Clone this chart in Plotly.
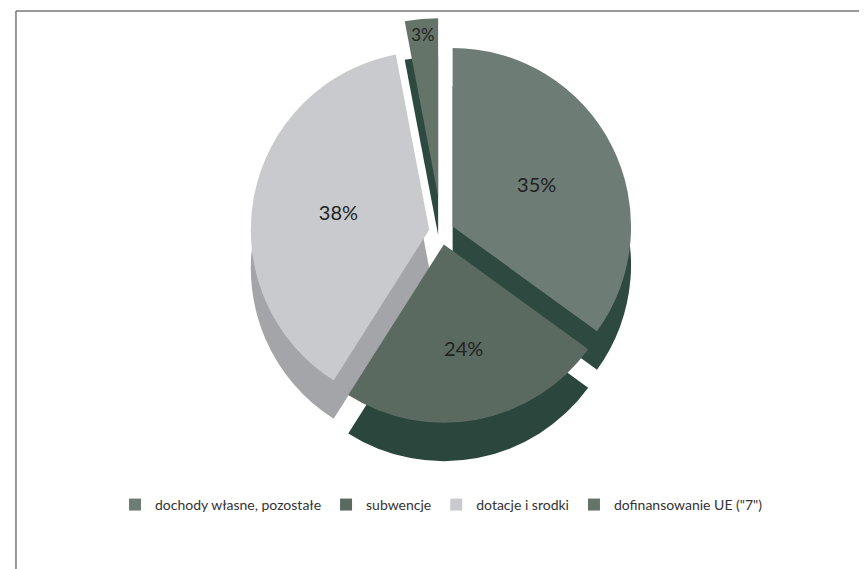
import plotly.graph_objects as go

labels = ["dochody własne, pozostałe", "subwencje", "dotacje i srodki", 'dofinansowanie UE ("7")']
values = [35, 24, 38, 3]
top_colors = ["#6d7c74", "#5a6a61", "#c8cacd", "#647469"]
side_colors = ["#2e4a40", "#2b463c", "#a3a5a8", "#2e4a40"]
pulls = [0.07, 0.07, 0.07, 0.2]

fig = go.Figure()
# depth layer (fake 3D side)
fig.add_trace(go.Pie(
    labels=[l + " " for l in labels], values=values, sort=False, direction="clockwise",
    rotation=0, pull=pulls, marker=dict(colors=side_colors, line=dict(width=0)),
    textinfo="none", hoverinfo="skip", showlegend=False,
    domain=dict(x=[0.05, 0.95], y=[0.15, 0.93])))
fig.add_trace(go.Pie(
    labels=labels, values=values, sort=False, direction="clockwise",
    rotation=0, pull=pulls, marker=dict(colors=top_colors, line=dict(width=0)),
    textinfo="percent", texttemplate="%{value}%", textposition="inside",
    insidetextorientation="horizontal",
    textfont=dict(size=20, color="#222222", family="Lato, sans-serif"),
    domain=dict(x=[0.05, 0.95], y=[0.22, 1.0])))

fig.update_layout(
    width=867, height=569,
    paper_bgcolor="white", plot_bgcolor="white",
    margin=dict(l=10, r=10, t=10, b=10),
    font=dict(family="Lato, Open Sans, sans-serif", size=14, color="#333333"),
    legend=dict(orientation="h", x=0.5, xanchor="center", y=0.113, yanchor="middle",
                font=dict(size=14), itemwidth=30),
    shapes=[
        dict(type="line", xref="paper", yref="paper", x0=-0.0024, y0=1.0128, x1=1.02, y1=1.0128,
             line=dict(color="#777777", width=1.5)),
        dict(type="line", xref="paper", yref="paper", x0=-0.0024, y0=1.0128, x1=-0.0024, y1=-0.02,
             line=dict(color="#777777", width=1.5)),
    ],
)
fig.write_html("out.html")
